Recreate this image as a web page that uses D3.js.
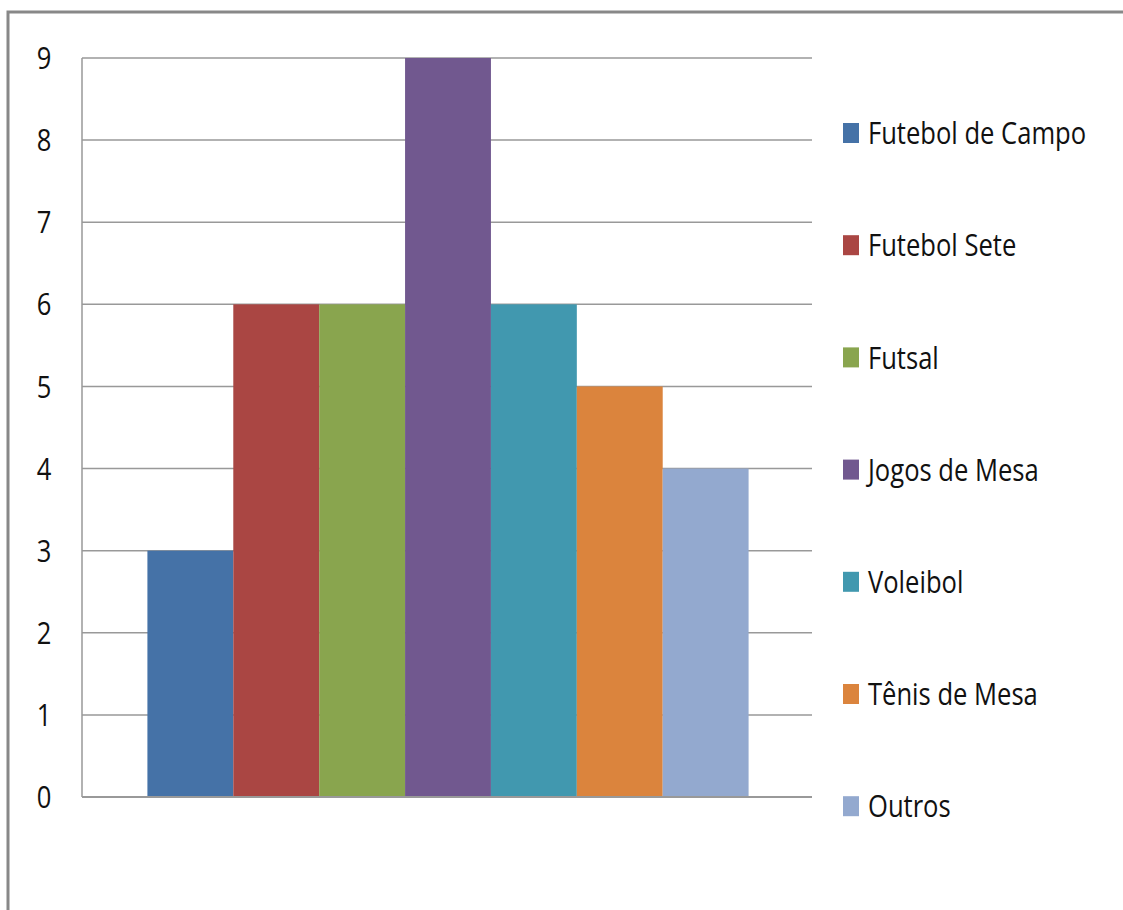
<!DOCTYPE html>
<html>
<head>
<meta charset="utf-8">
<script src="https://cdn.jsdelivr.net/npm/d3@7"></script>
<style>
  body { margin: 0; background: #fff; }
  text { font-family: "Open Sans", "Liberation Sans", sans-serif; fill: #111; }
</style>
</head>
<body>
<div id="container"></div>
<script>
/* DATA */
const series = ["Futebol de Campo", "Futebol Sete", "Futsal", "Jogos de Mesa", "Voleibol", "Tênis de Mesa", "Outros"]
const values = [3, 6, 6, 9, 6, 5, 4]
const colors = ["#4572A7", "#AA4643", "#89A54E", "#71588F", "#4198AF", "#DB843D", "#93A9CF"]
const yTicks = [0, 1, 2, 3, 4, 5, 6, 7, 8, 9]

/* CONSTANTS */
const width = 1123, height = 910
const margin = {top: 58, bottom: 113, left: 82, right: 311}
const squeeze = 0.825   // text in the picture is horizontally compressed

const svg = d3.select("#container")
  .append("svg")
  .attr("width", width)
  .attr("height", height)

// outer frame (top + left only visible)
svg.append("path")
  .attr("d", `M8,${height} V12 H${width}`)
  .attr("fill", "none")
  .attr("stroke", "#888")
  .attr("stroke-width", 3)

// SCALES
const yScale = d3.scaleLinear()
  .domain([0, 9])
  .range([height - margin.bottom, margin.top])

// single category, 7 bars side by side, 150% gap
const xScale = d3.scaleBand()
  .domain(series)
  .range([margin.left + 1, width - margin.right + 1])
  .paddingInner(0)
  .paddingOuter(0.75)

// GRIDLINES
svg.append("g")
  .selectAll("line")
  .data(yTicks)
  .join("line")
  .attr("x1", margin.left).attr("x2", width - margin.right)
  .attr("y1", d => yScale(d)).attr("y2", d => yScale(d))
  .attr("stroke", "#999").attr("stroke-width", 1.5)

// Y AXIS LABELS
svg.append("g")
  .selectAll("text")
  .data(yTicks)
  .join("text")
  .attr("transform", d => `translate(44,${yScale(d)}) scale(${squeeze},1)`)
  .attr("text-anchor", "middle")
  .attr("dy", "0.36em")
  .attr("font-size", 31)
  .text(d => d3.format("d")(d))

// left axis line
svg.append("line")
  .attr("x1", margin.left).attr("x2", margin.left)
  .attr("y1", margin.top).attr("y2", yScale(0))
  .attr("stroke", "#999").attr("stroke-width", 1.5)

// BARS
svg.selectAll("rect.bar")
  .data(values)
  .join("rect")
  .attr("class", "bar")
  .attr("x", (d, i) => xScale(series[i]))
  .attr("width", xScale.bandwidth())
  .attr("y", d => yScale(d))
  .attr("height", d => yScale(0) - yScale(d))
  .attr("fill", (d, i) => colors[i])

// baseline
svg.append("line")
  .attr("x1", margin.left).attr("x2", width - margin.right)
  .attr("y1", yScale(0)).attr("y2", yScale(0))
  .attr("stroke", "#999").attr("stroke-width", 2)

// LEGEND
const legend = svg.append("g")
  .selectAll("g")
  .data(series)
  .join("g")
  .attr("transform", (d, i) => `translate(843, ${133 + i * 112.2})`)

legend.append("rect")
  .attr("x", 0).attr("y", -10)
  .attr("width", 16).attr("height", 20)
  .attr("fill", (d, i) => colors[i])

legend.append("text")
  .attr("transform", `translate(25,0) scale(${squeeze},1)`)
  .attr("dy", "0.36em")
  .attr("font-size", 31)
  .text(d => d)
</script>
</body>
</html>
